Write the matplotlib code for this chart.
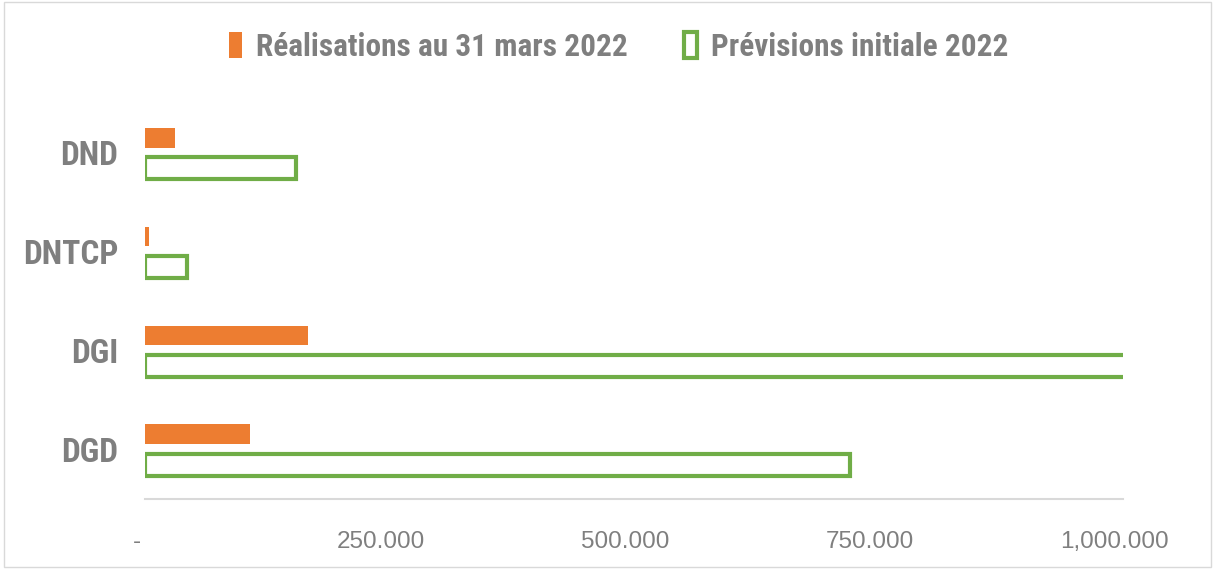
import matplotlib.pyplot as plt
from matplotlib import font_manager
from matplotlib.patches import Rectangle
from matplotlib.transforms import ScaledTranslation

categories = ["DGD", "DGI", "DNTCP", "DND"]
realisations = [108000, 167000, 5000, 31000]
previsions = [721000, 1060000, 43000, 155000]
tick_values = [0, 250000, 500000, 750000, 1000000]
tick_labels = ["-", "250.000", "500.000", "750.000", "1,000.000"]

orange = "#ed7d31"
green = "#70ad47"
gray = "#7f7f7f"

# narrow font if any, else Liberation Sans
installed = {f.name for f in font_manager.fontManager.ttflist}
narrow = False
main = "Liberation Sans"
for name in ["Liberation Sans Narrow", "Roboto Condensed", "Open Sans Condensed"]:
    if name in installed:
        main, narrow = name, True
        break
font = [main, "DejaVu Sans"]
k = 1.0 if narrow else 0.86

fig = plt.figure(figsize=(12.15, 5.69), dpi=100)
ax = fig.add_axes([0.119, 0.123, 0.805, 0.695])

y = range(len(categories))
off = 0.155
ax.barh([i + off for i in y], realisations, height=0.2, color=orange,
        label="Réalisations au 31 mars 2022")
ax.barh([i - off for i in y], previsions, height=0.22, facecolor="white",
        edgecolor=green, linewidth=3, label="Prévisions initiale 2022")

ax.set_xlim(0, 1000000)
ax.set_ylim(-0.5, 3.5)
ax.set_yticks(list(y))
ax.set_yticklabels(categories, fontsize=24 * k, fontweight="bold", color=gray, family=font)
ax.set_xticks(tick_values)
ax.set_xticklabels(tick_labels, fontsize=17.5, color=gray,
                   family=["Liberation Sans", "DejaVu Sans"])
ax.tick_params(length=0)
ax.tick_params(axis="x", pad=23)
ax.tick_params(axis="y", pad=19)
shift = ScaledTranslation(-8 / 100, 0, fig.dpi_scale_trans)
for lab in ax.get_xticklabels():
    lab.set_transform(lab.get_transform() + shift)

for s in ["top", "right", "left"]:
    ax.spines[s].set_visible(False)
ax.spines["bottom"].set_color("#d9d9d9")
ax.spines["bottom"].set_linewidth(1.5)

leg = fig.legend(loc="center", bbox_to_anchor=(0.509, 0.917), ncol=2, frameon=False,
                 prop={"family": font, "size": 22.5 * k, "weight": "bold"},
                 handlelength=0.42, handleheight=0.9, handletextpad=0.45, columnspacing=1.8)
for t in leg.get_texts():
    t.set_color(gray)

fig.patches.append(Rectangle((0.003, 0.003), 0.994, 0.994, transform=fig.transFigure,
                             fill=False, edgecolor="#d9d9d9", linewidth=1))

fig.savefig("out.png", dpi=100)
